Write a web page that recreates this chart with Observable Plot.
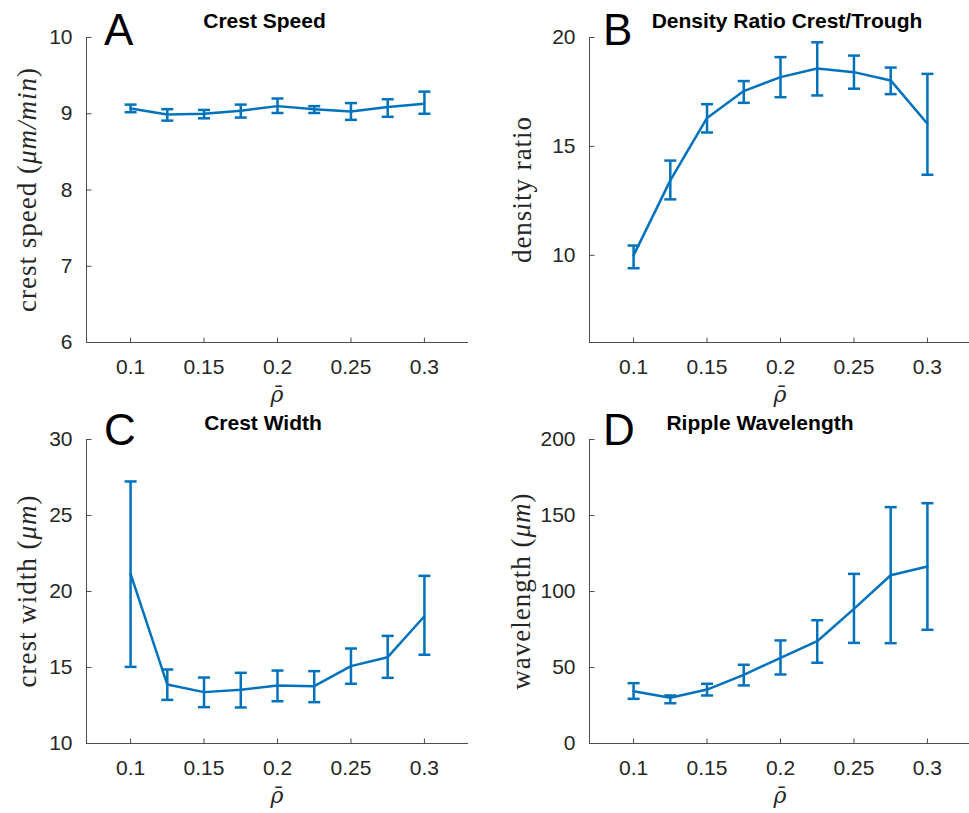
<!DOCTYPE html>
<html>
<head>
<meta charset="utf-8">
<script src="https://cdn.jsdelivr.net/npm/d3@7"></script>
<script src="https://cdn.jsdelivr.net/npm/@observablehq/plot@0.6"></script>
<style>
  html, body { margin: 0; padding: 0; background: #fff; overflow: hidden; }
  #fig { position: relative; width: 969px; height: 813px; overflow: hidden; background: #fff; }
  #fig > svg { position: absolute; }
  .lbl { font-family: "Liberation Serif", "Times New Roman", serif; fill: #262626; }
  .rho { font-family: "DejaVu Serif", serif; fill: #262626; }
  .ttl { font-family: "Liberation Sans", Arial, sans-serif; font-weight: bold; fill: #000; }
  .let { font-family: "Liberation Sans", Arial, sans-serif; fill: #000; }
</style>
</head>
<body>
<div id="fig"></div>
<script>
// ---- data ----
const rho = [0.1, 0.125, 0.15, 0.175, 0.2, 0.225, 0.25, 0.275, 0.3];
const xDomain = [0.07, 0.33];
const xTicks = [0.1, 0.15, 0.2, 0.25, 0.3];

const speedMean = [9.07, 8.99, 9.00, 9.04, 9.10, 9.06, 9.03, 9.09, 9.13];
const speedLo   = [9.02, 8.91, 8.94, 8.95, 9.01, 9.01, 8.92, 8.96, 9.00];
const speedHi   = [9.12, 9.06, 9.05, 9.12, 9.20, 9.10, 9.14, 9.19, 9.29];
const speedDomain = [6, 10];
const speedTicks = [6, 7, 8, 9, 10];

const ratioMean = [10.0, 13.44, 16.31, 17.54, 18.18, 18.58, 18.41, 18.03, 16.04];
const ratioLo   = [9.41, 12.57, 15.64, 17.0, 17.26, 17.34, 17.65, 17.4, 13.7];
const ratioHi   = [10.45, 14.35, 16.94, 18.0, 19.1, 19.78, 19.17, 18.62, 18.33];
const ratioDomain = [6, 20];
const ratioTicks = [10, 15, 20];

const widthMean = [21.16, 13.88, 13.38, 13.53, 13.82, 13.77, 15.09, 15.68, 18.37];
const widthLo   = [15.04, 12.87, 12.39, 12.37, 12.78, 12.72, 13.93, 14.32, 15.84];
const widthHi   = [27.24, 14.87, 14.34, 14.65, 14.8, 14.76, 16.25, 17.08, 21.03];
const widthDomain = [10, 30];
const widthTicks = [10, 15, 20, 25, 30];

const waveMean = [34.4, 30.1, 35.5, 45.2, 56.4, 67.3, 88.6, 110.7, 116.4];
const waveLo   = [29.4, 26.5, 31.6, 38.2, 45.4, 53.1, 66.2, 66.0, 74.8];
const waveHi   = [39.7, 31.6, 39.3, 51.8, 67.8, 81.1, 111.6, 155.5, 158.1];
const waveDomain = [0, 200];
const waveTicks = [0, 50, 100, 150, 200];

// ---- style ----
const blue = "#0072BD";
const axisColor = "#4d4d4d";
const cap = {
  draw(ctx, size) {
    const h = Math.sqrt(size / Math.PI);
    ctx.moveTo(-h, 0);
    ctx.lineTo(h, 0);
  }
};
// inward tick marks (up from x axis, right from y axis)
const tickUp = { draw(ctx) { ctx.moveTo(0, 0); ctx.lineTo(0, -5); } };
const tickRight = { draw(ctx) { ctx.moveTo(0, 0); ctx.lineTo(5, 0); } };
const fmt = d => `${d}`;

function panel({left, top, width, height, mt, mb, ml, mr, yDomain, yTicks, mean, lo, hi}) {
  const data = rho.map((r, i) => ({r, m: mean[i], lo: lo[i], hi: hi[i]}));
  const chart = Plot.plot({
    width, height,
    marginTop: mt, marginBottom: mb, marginLeft: ml, marginRight: mr,
    style: {fontFamily: "'Liberation Sans', Arial, sans-serif", fontSize: "21px", color: "#262626", background: "transparent", overflow: "visible"},
    x: {domain: xDomain, ticks: xTicks, tickFormat: fmt, label: null, tickSize: 0, tickPadding: 17},
    y: {domain: yDomain, ticks: yTicks, tickFormat: fmt, label: null, tickSize: 0, tickPadding: 14},
    marks: [
      Plot.ruleX([xDomain[0]], {stroke: axisColor, strokeWidth: 1}),
      Plot.ruleY([yDomain[0]], {stroke: axisColor, strokeWidth: 1}),
      Plot.dot(xTicks, {x: d => d, y: () => yDomain[0], symbol: tickUp, stroke: axisColor, strokeWidth: 1, fill: "none"}),
      Plot.dot(yTicks, {y: d => d, x: () => xDomain[0], symbol: tickRight, stroke: axisColor, strokeWidth: 1, fill: "none"}),
      Plot.lineY(data, {x: "r", y: "m", stroke: blue, strokeWidth: 2.5}),
      Plot.ruleX(data, {x: "r", y1: "lo", y2: "hi", stroke: blue, strokeWidth: 2.5}),
      Plot.dot(data, {x: "r", y: "lo", symbol: cap, r: 6, stroke: blue, strokeWidth: 2.5, fill: "none"}),
      Plot.dot(data, {x: "r", y: "hi", symbol: cap, r: 6, stroke: blue, strokeWidth: 2.5, fill: "none"})
    ]
  });
  chart.style.left = left + "px";
  chart.style.top = top + "px";
  document.getElementById("fig").appendChild(chart);
}

panel({left: 0, top: 0, width: 484, height: 406, mt: 37, mb: 64, ml: 86, mr: 16,
  yDomain: speedDomain, yTicks: speedTicks, mean: speedMean, lo: speedLo, hi: speedHi});
panel({left: 484, top: 0, width: 487, height: 406, mt: 37, mb: 64, ml: 105, mr: 0,
  yDomain: ratioDomain, yTicks: ratioTicks, mean: ratioMean, lo: ratioLo, hi: ratioHi});
panel({left: 0, top: 406, width: 484, height: 407, mt: 33, mb: 70, ml: 86, mr: 16,
  yDomain: widthDomain, yTicks: widthTicks, mean: widthMean, lo: widthLo, hi: widthHi});
panel({left: 484, top: 406, width: 487, height: 407, mt: 33, mb: 70, ml: 105, mr: 0,
  yDomain: waveDomain, yTicks: waveTicks, mean: waveMean, lo: waveLo, hi: waveHi});

// ---- overlay text (titles, letters, axis labels) ----
const ov = d3.select("#fig").append("svg")
  .attr("width", 969).attr("height", 813)
  .style("left", "0px").style("top", "0px").style("pointer-events", "none");

const titles = [
  {t: "Crest Speed", x: 264.5, y: 27.5},
  {t: "Density Ratio Crest/Trough", x: 787, y: 28},
  {t: "Crest Width", x: 263, y: 430},
  {t: "Ripple Wavelength", x: 760, y: 430}
];
titles.forEach(d => ov.append("text").attr("class", "ttl").attr("x", d.x).attr("y", d.y)
  .attr("text-anchor", "middle").attr("font-size", 21).text(d.t));

const letters = [
  {t: "A", x: 104, y: 45}, {t: "B", x: 603, y: 45},
  {t: "C", x: 104, y: 445}, {t: "D", x: 603, y: 445}
];
letters.forEach(d => ov.append("text").attr("class", "let").attr("x", d.x).attr("y", d.y)
  .attr("font-size", 44).text(d.t));

const ylabels = [
  {plain: "crest speed ", ital: "μm/min", paren: true, x: 36, y: 189.5},
  {plain: "density ratio", ital: null, paren: false, x: 531, y: 189.5},
  {plain: "crest width ", ital: "μm", paren: true, x: 36, y: 591},
  {plain: "wavelength ", ital: "μm", paren: true, x: 530, y: 591}
];
ylabels.forEach(d => {
  const t = ov.append("text").attr("class", "lbl").attr("font-size", 27)
    .attr("letter-spacing", 1)
    .attr("text-anchor", "middle")
    .attr("transform", `translate(${d.x},${d.y}) rotate(-90)`);
  t.append("tspan").text(d.plain + (d.paren ? "(" : ""));
  if (d.ital) t.append("tspan").attr("font-style", "italic").text(d.ital);
  if (d.paren) t.append("tspan").text(")");
});

const xlabels = [
  {x: 277, y: 402}, {x: 780, y: 402}, {x: 277, y: 803}, {x: 780, y: 803}
];
xlabels.forEach(d => ov.append("text").attr("class", "rho").attr("font-size", 22)
  .attr("font-style", "italic").attr("text-anchor", "middle")
  .attr("x", d.x).attr("y", d.y).text("ρ\u0304"));
</script>
</body>
</html>
